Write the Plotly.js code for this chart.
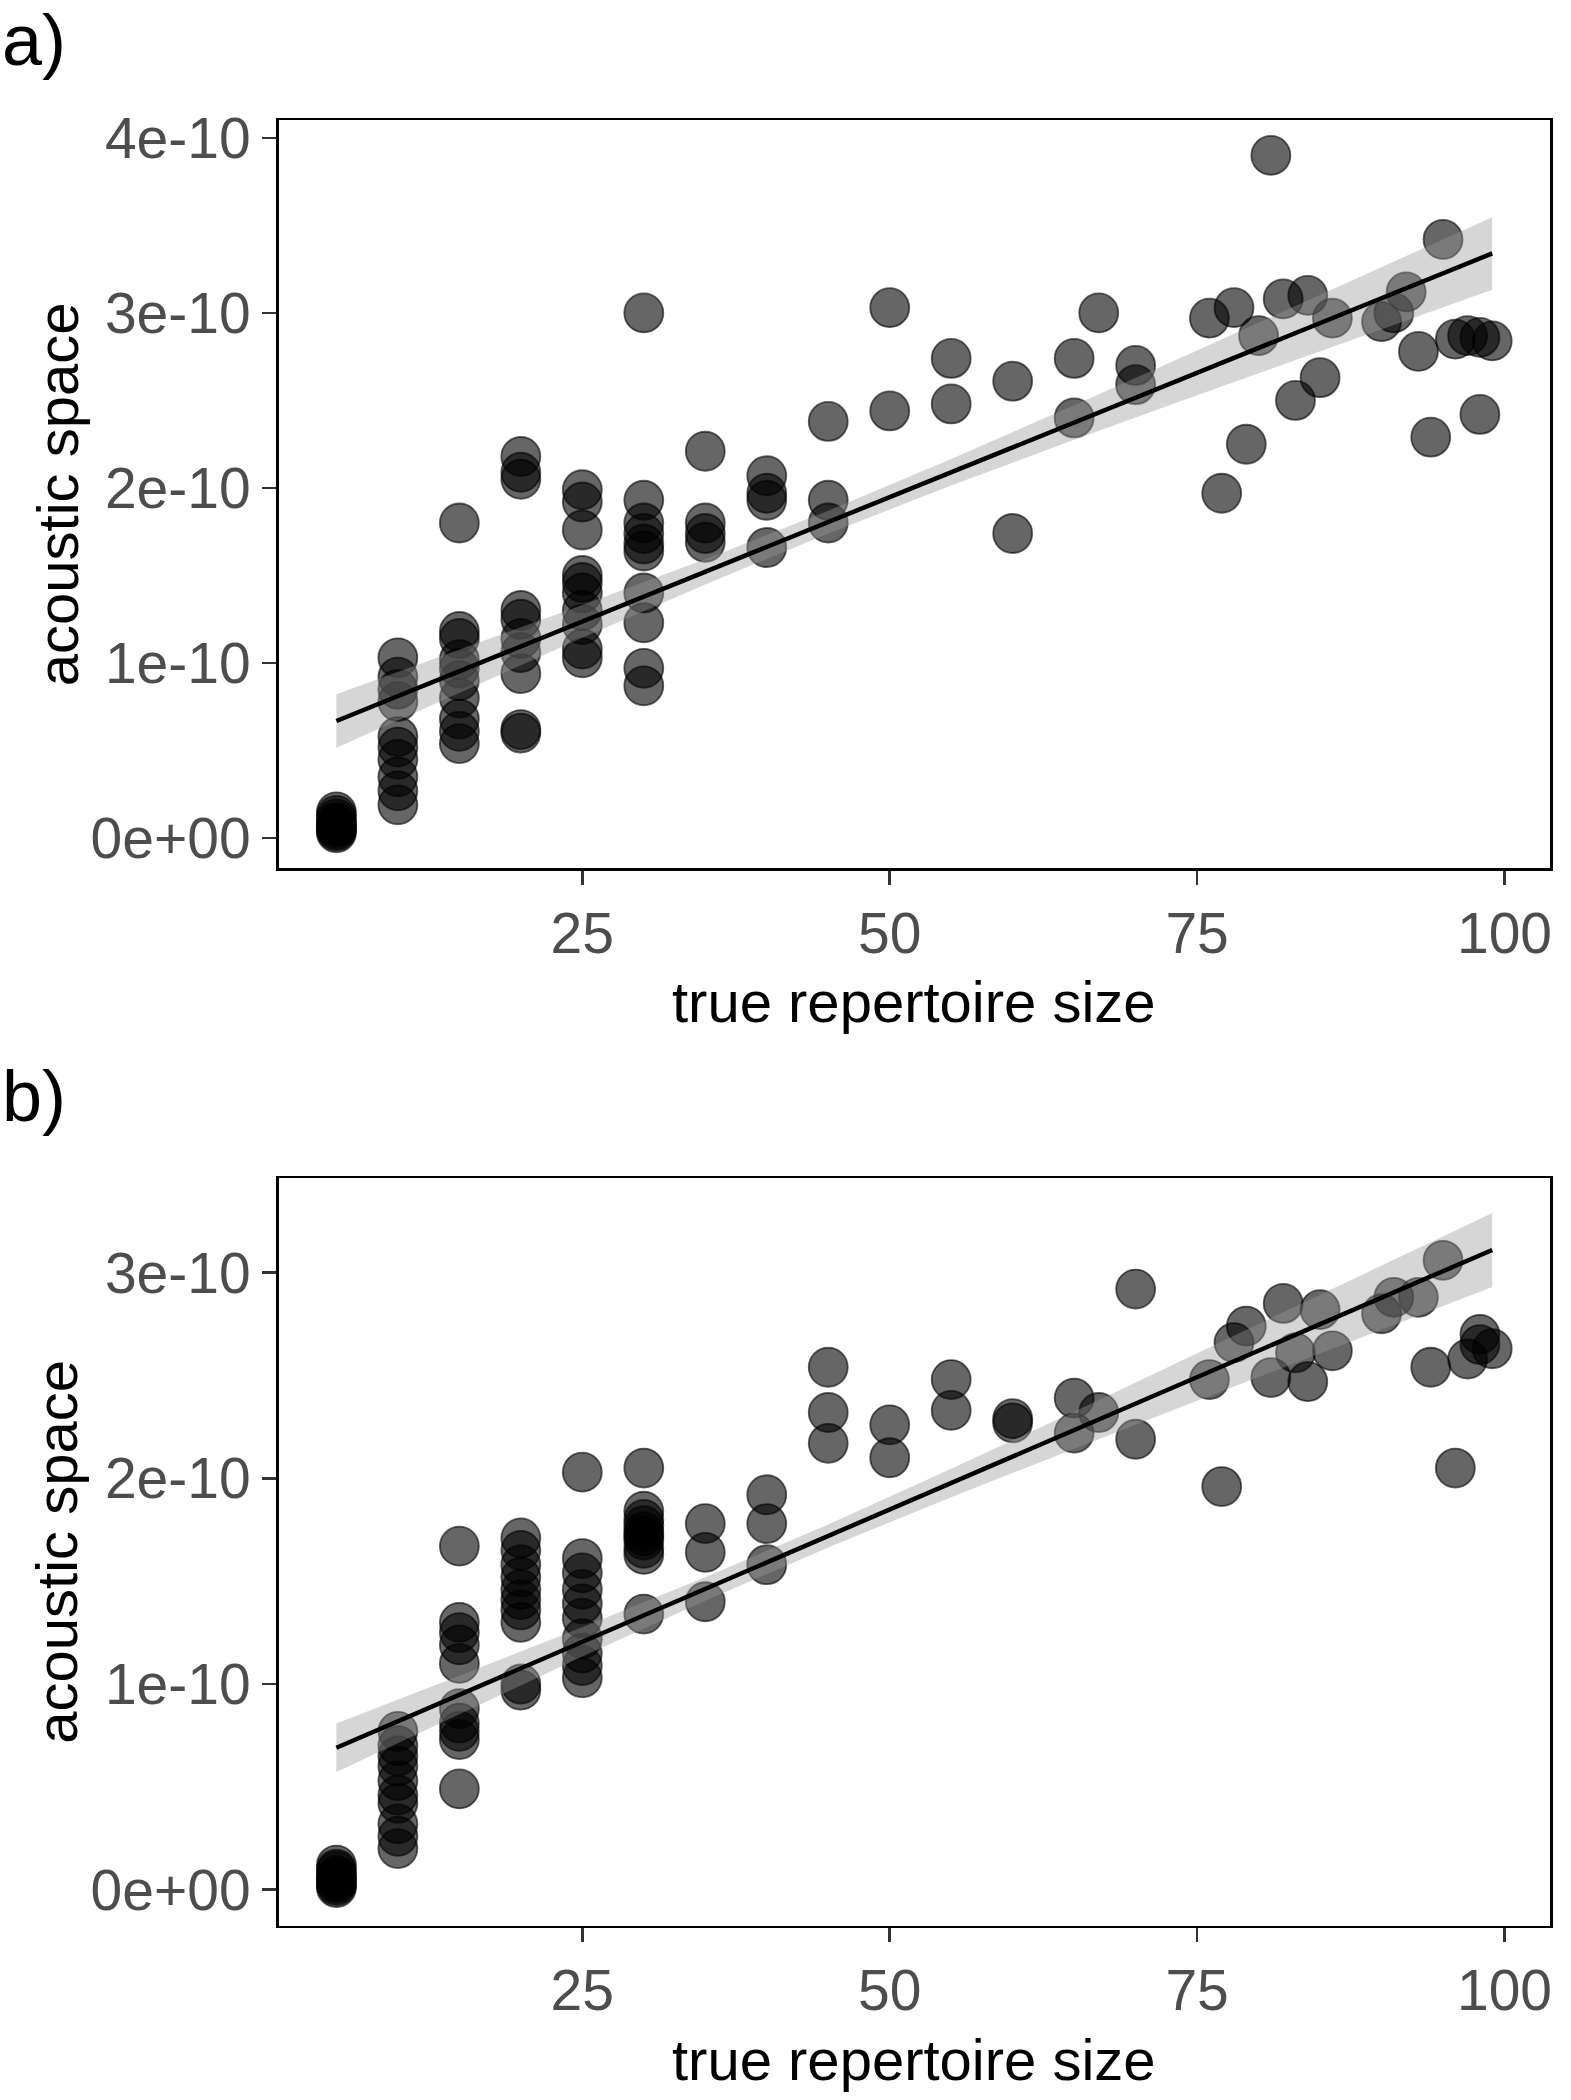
<!DOCTYPE html>
<html>
<head>
<meta charset="utf-8">
<script src="https://cdn.plot.ly/plotly-3.0.1.min.js"></script>
<style>
  html, body { margin: 0; padding: 0; background: #fff; }
  #chart { width: 1571px; height: 2100px; }
</style>
</head>
<body>
<div id="chart"></div>
<script>
// ---------- data (acoustic space in units of 1e-10) ----------
const UNIT = 1e-10;

// panel a) points
const aX = [5,5,5,5,5,5,5,5,5,5,
            10,10,10,10,10,10,10,10,10,10,
            15,15,15,15,15,15,15,15,15,15,
            20,20,20,20,20,20,20,20,20,20,
            25,25,25,25,25,25,25,25,25,25,
            30,30,30,30,30,30,30,30,30,30,
            35,35,35,35, 40,40,40,40, 45,45,45, 50,50, 55,55, 60,60, 65,65, 67, 70,70,
            76,77,78,79,80,81,82,83,84,85,86,90,91,92,93,94,95,96,97,98,98,99];
const aY = [0.03,0.04,0.05,0.06,0.07,0.08,0.09,0.11,0.13,0.15,
            1.03,0.92,0.85,0.78,0.58,0.52,0.45,0.35,0.27,0.19,
            1.80,1.18,1.14,1.02,0.97,0.90,0.80,0.68,0.61,0.54,
            2.18,2.09,2.05,1.30,1.25,1.14,1.06,0.94,0.62,0.60,
            1.99,1.92,1.76,1.50,1.46,1.40,1.30,1.22,1.08,1.03,
            3.00,1.93,1.80,1.74,1.68,1.64,1.40,1.23,0.97,0.87,
            2.21,1.80,1.74,1.69, 2.07,1.97,1.93,1.66, 2.38,1.93,1.80, 3.03,2.44, 2.74,2.48, 2.61,1.74, 2.74,2.40, 3.00, 2.70,2.59,
            2.97,1.97,3.03,2.25,2.87,3.90,3.08,2.50,3.10,2.63,2.97,2.95,3.00,3.12,2.78,2.29,3.42,2.85,2.87,2.86,2.42,2.84];

// panel a) fitted line and confidence band
const aFitX   = [5, 15, 25, 35, 45, 55, 65, 75, 85, 99];
const aFitY   = [0.669, 0.953, 1.237, 1.521, 1.805, 2.090, 2.374, 2.658, 2.942, 3.340];
const aLower  = [0.516, 0.831, 1.144, 1.449, 1.740, 2.014, 2.275, 2.530, 2.782, 3.133];
const aUpper  = [0.822, 1.075, 1.331, 1.593, 1.870, 2.166, 2.473, 2.786, 3.102, 3.547];

// panel b) points
const bX = [5,5,5,5,5,5,5,5,5,5,
            10,10,10,10,10,10,10,10,10,10,
            15,15,15,15,15,15,15,15,15,15,
            20,20,20,20,20,20,20,20,20,20,
            25,25,25,25,25,25,25,25,25,25,
            30,30,30,30,30,30,30,30,30,30,
            35,35,35, 40,40,40, 45,45,45, 50,50, 55,55, 60,60, 65,65, 67, 70,70,
            76,77,78,79,81,82,83,84,85,86,90,91,93,94,95,96,97,98,98,99];
const bY = [0.01,0.02,0.03,0.04,0.05,0.06,0.07,0.09,0.10,0.12,
            0.77,0.70,0.65,0.60,0.53,0.46,0.42,0.32,0.26,0.20,
            1.67,1.30,1.25,1.19,1.10,0.88,0.81,0.77,0.73,0.49,
            1.71,1.65,1.58,1.52,1.46,1.41,1.36,1.30,1.00,0.97,
            2.03,1.61,1.54,1.46,1.39,1.32,1.22,1.15,1.09,1.03,
            2.05,1.84,1.80,1.77,1.74,1.72,1.70,1.66,1.63,1.34,
            1.78,1.64,1.40, 1.92,1.78,1.58, 2.54,2.32,2.17, 2.26,2.10, 2.48,2.33, 2.29,2.27, 2.39,2.22, 2.32, 2.92,2.19,
            2.48,1.96,2.66,2.74,2.49,2.85,2.61,2.47,2.82,2.62,2.80,2.88,2.88,2.54,3.06,2.05,2.58,2.70,2.65,2.63];

// panel b) fitted line and confidence band
const bFitX   = [5, 15, 25, 35, 45, 55, 65, 75, 85, 99];
const bFitY   = [0.690, 0.947, 1.205, 1.462, 1.720, 1.977, 2.234, 2.492, 2.749, 3.110];
const bLower  = [0.572, 0.854, 1.134, 1.405, 1.664, 1.908, 2.144, 2.377, 2.608, 2.930];
const bUpper  = [0.808, 1.040, 1.276, 1.519, 1.776, 2.046, 2.324, 2.607, 2.890, 3.290];

// axis ticks
const xTickVals = [25, 50, 75, 100];
const xTickText = ['25', '50', '75', '100'];
const aYTickVals = [0, 1, 2, 3, 4];
const aYTickText = ['0e+00', '1e-10', '2e-10', '3e-10', '4e-10'];
const bYTickVals = [0, 1, 2, 3];
const bYTickText = ['0e+00', '1e-10', '2e-10', '3e-10'];

const panelLabels = ['a)', 'b)'];
const xTitle = 'true repertoire size';
const yTitle = 'acoustic space';

// ---------- build ----------
const sc = v => v.map(d => d * UNIT);
const W = 1571, H = 2100;
const FONT = 'Liberation Sans, Arial, Helvetica, sans-serif';

function pointsTrace(x, y, xa, ya) {
  return {
    type: 'scatter', mode: 'markers', x: x, y: sc(y), xaxis: xa, yaxis: ya,
    marker: { size: 39, color: 'rgba(0,0,0,0.6)',
              line: { color: 'rgba(0,0,0,0.6)', width: 1.8 } },
    hoverinfo: 'x+y', showlegend: false
  };
}
function bandTrace(fx, lo, hi, xa, ya) {
  return {
    type: 'scatter', mode: 'lines', xaxis: xa, yaxis: ya,
    x: fx.concat(fx.slice().reverse()),
    y: sc(hi).concat(sc(lo).slice().reverse()),
    fill: 'toself', fillcolor: 'rgba(153,153,153,0.4)',
    line: { width: 0, color: 'rgba(0,0,0,0)' },
    hoverinfo: 'skip', showlegend: false
  };
}
function lineTrace(fx, fy, xa, ya) {
  return {
    type: 'scatter', mode: 'lines', x: fx, y: sc(fy), xaxis: xa, yaxis: ya,
    line: { color: '#000', width: 4.5 },
    hoverinfo: 'skip', showlegend: false
  };
}

const data = [
  pointsTrace(aX, aY, 'x', 'y'),
  bandTrace(aFitX, aLower, aUpper, 'x', 'y'),
  lineTrace(aFitX, aFitY, 'x', 'y'),
  pointsTrace(bX, bY, 'x2', 'y2'),
  bandTrace(bFitX, bLower, bUpper, 'x2', 'y2'),
  lineTrace(bFitX, bFitY, 'x2', 'y2')
];

const tickFont = { family: FONT, size: 57, color: '#4d4d4d' };
function xAxis(anchor) {
  return {
    anchor: anchor, domain: [278.6 / W, 1550 / W], range: [0.3, 103.7],
    tickmode: 'array', tickvals: xTickVals, ticktext: xTickText,
    ticks: 'outside', ticklen: 14, tickwidth: 2.5, tickcolor: '#333',
    showline: true, mirror: true, linecolor: '#000', linewidth: 2.5,
    showgrid: false, zeroline: false, tickfont: tickFont
  };
}
function yAxis(anchor, top, bottom, range, tv, tt) {
  return {
    anchor: anchor, domain: [1 - bottom / H, 1 - top / H], range: range.map(d => d * UNIT),
    tickmode: 'array', tickvals: sc(tv), ticktext: tt,
    ticks: 'outside', ticklen: 14, tickwidth: 2.5, tickcolor: '#333',
    showline: true, mirror: true, linecolor: '#000', linewidth: 2.5,
    showgrid: false, zeroline: false, tickfont: tickFont
  };
}

const aTop = 120.4, aBot = 868, bTop = 1178, bBot = 1925.5;
const titleFont = { family: FONT, size: 58, color: '#000' };
const labelFont = { family: FONT, size: 72, color: '#000' };

const layout = {
  width: W, height: H,
  margin: { l: 0, r: 0, t: 0, b: 0 },
  paper_bgcolor: '#fff', plot_bgcolor: '#fff',
  showlegend: false,
  xaxis: xAxis('y'),
  yaxis: yAxis('x', aTop, aBot, [-0.171, 4.10], aYTickVals, aYTickText),
  xaxis2: xAxis('y2'),
  yaxis2: yAxis('x2', bTop, bBot, [-0.174, 3.46], bYTickVals, bYTickText),
  annotations: [
    { xref: 'paper', yref: 'paper', x: 0, y: 1 - 40 / H, xanchor: 'left', yanchor: 'middle',
      text: panelLabels[0], showarrow: false, font: labelFont },
    { xref: 'paper', yref: 'paper', x: 0, y: 1 - 1096 / H, xanchor: 'left', yanchor: 'middle',
      text: panelLabels[1], showarrow: false, font: labelFont },
    { xref: 'paper', yref: 'paper', x: 57 / W, y: 1 - (aTop + aBot) / 2 / H, xanchor: 'center', yanchor: 'middle',
      text: yTitle, textangle: -90, showarrow: false, font: titleFont },
    { xref: 'paper', yref: 'paper', x: 57 / W, y: 1 - (bTop + bBot) / 2 / H, xanchor: 'center', yanchor: 'middle',
      text: yTitle, textangle: -90, showarrow: false, font: titleFont },
    { xref: 'paper', yref: 'paper', x: 914 / W, y: 1 - 1002 / H, xanchor: 'center', yanchor: 'middle',
      text: xTitle, showarrow: false, font: titleFont },
    { xref: 'paper', yref: 'paper', x: 914 / W, y: 1 - 2059 / H, xanchor: 'center', yanchor: 'middle',
      text: xTitle, showarrow: false, font: titleFont }
  ]
};

Plotly.newPlot('chart', data, layout, { staticPlot: true, displayModeBar: false });
</script>
</body>
</html>
